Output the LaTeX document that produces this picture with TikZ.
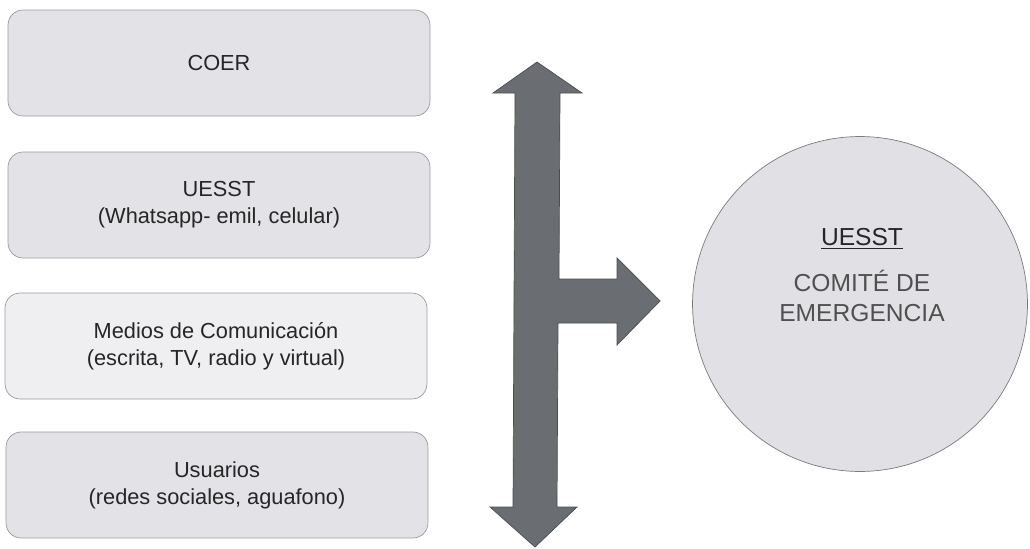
\documentclass[tikz,border=0pt]{standalone}
\usepackage{fontspec}
\setmainfont{Liberation Sans}
\usepackage{xcolor}
\usetikzlibrary{calc,positioning}

\definecolor{boxfill}{HTML}{E3E3E7}
\definecolor{boxfilllight}{HTML}{EFEFF1}
\definecolor{boxline}{HTML}{9A9A9E}
\definecolor{arrowfill}{HTML}{6A6E72}
\definecolor{arrowline}{HTML}{4A4D4F}
\definecolor{circfill}{HTML}{E1E1E5}
\definecolor{circtext}{HTML}{505050}

\tikzset{
    srcbox/.style={draw=boxline, fill=boxfill, rounded corners=0.3cm,
        minimum width=8.44cm, minimum height=2.12cm, align=center,
        text=black!85, font=\fontsize{12.4}{15.5}\selectfont},
    comite/.style={circle, draw=boxline!80!black, fill=circfill,
        minimum size=6.7cm},
}

\begin{document}
\begin{tikzpicture}[x=0.02cm, y=-0.02cm]

    \useasboundingbox (0,0) rectangle (1030,548);

    % Fuentes de informacion
    \node[srcbox] (coer) at (219,63) {COER};
    \node[srcbox] (uesst) at (219,205) {UESST\\(Whatsapp- emil, celular)};
    \node[srcbox, fill=boxfilllight] (medios) at (216,346) {Medios de Comunicación\\(escrita, TV, radio y virtual)};
    \node[srcbox] (usuarios) at (217,485) {Usuarios\\(redes sociales, aguafono)};

    % Flecha
    \draw[draw=arrowline, fill=arrowfill, line join=miter]
        (537,62) -- (582,93) -- (560,93) -- (559,279) -- (617,279) -- (617,258)
        -- (660,301) -- (617,345) -- (617,323) -- (558,323) -- (557,507)
        -- (577,507) -- (535,547) -- (490,507) -- (513,507) -- (515,93)
        -- (493,93) -- cycle;

    % Comite
    \node[comite] (comite) at (860,304) {};
    \node[text=circtext, align=center, font=\fontsize{14}{17}\selectfont]
        (comitetxt) at (862,275) {\textcolor{black!85}{\underline{UESST}}\\[9pt]COMITÉ DE\\EMERGENCIA};

\end{tikzpicture}
\end{document}
